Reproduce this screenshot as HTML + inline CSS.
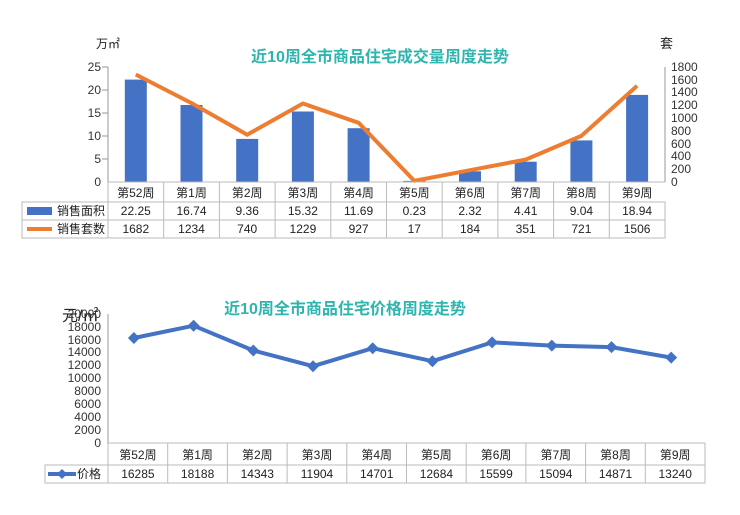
<!DOCTYPE html>
<html><head><meta charset="utf-8"><style>
body{margin:0;background:#fff;}
svg text{font-family:"Liberation Sans","Noto Sans CJK SC",sans-serif;}
</style></head><body>
<svg width="740" height="510" xmlns="http://www.w3.org/2000/svg">
<rect width="740" height="510" fill="#fff"/>
<!-- Chart 1 -->
<text x="96" y="48" font-size="12" fill="#222">万㎡</text>
<text x="660" y="48" font-size="13" fill="#222">套</text>
<text x="380" y="62" font-size="16" font-weight="bold" fill="#2db5ae" text-anchor="middle">近10周全市商品住宅成交量周度走势</text>
<g font-size="12" fill="#333" text-anchor="end">
<text x="101" y="71">25</text><text x="101" y="94">20</text><text x="101" y="117">15</text><text x="101" y="140">10</text><text x="101" y="163">5</text><text x="101" y="186">0</text>
</g>
<line x1="108" y1="67" x2="108" y2="182" stroke="#999"/>
<line x1="102" y1="67" x2="108" y2="67" stroke="#999"/><line x1="102" y1="90" x2="108" y2="90" stroke="#999"/><line x1="102" y1="113" x2="108" y2="113" stroke="#999"/><line x1="102" y1="136" x2="108" y2="136" stroke="#999"/><line x1="102" y1="159" x2="108" y2="159" stroke="#999"/>
<line x1="665" y1="67" x2="665" y2="182" stroke="#999"/>
<g font-size="12" fill="#333">
<text x="671" y="71">1800</text><text x="671" y="84">1600</text><text x="671" y="96">1400</text><text x="671" y="109">1200</text><text x="671" y="122">1000</text><text x="671" y="135">800</text><text x="671" y="148">600</text><text x="671" y="160">400</text><text x="671" y="173">200</text><text x="671" y="186">0</text>
</g>
<g fill="#4472c4">
<rect x="124.8" y="79.6" width="22" height="102.4"/>
<rect x="180.5" y="105" width="22" height="77"/>
<rect x="236.2" y="138.9" width="22" height="43.1"/>
<rect x="291.9" y="111.5" width="22" height="70.5"/>
<rect x="347.6" y="128.2" width="22" height="53.8"/>
<rect x="403.3" y="180.9" width="22" height="1.1"/>
<rect x="459" y="171.3" width="22" height="10.7"/>
<rect x="514.7" y="161.7" width="22" height="20.3"/>
<rect x="570.4" y="140.4" width="22" height="41.6"/>
<rect x="626.1" y="94.9" width="22" height="87.1"/>
</g>
<polyline fill="none" stroke="#ed7d31" stroke-width="4" stroke-linejoin="round" points="135.8,74.5 191.5,103.1 247.2,134.7 302.9,103.5 358.6,122.8 414.3,180.9 470,170.2 525.7,159.6 581.4,135.9 637.1,85.8"/>
<g stroke="#bbb" fill="none">
<rect x="22" y="202" width="643" height="36"/>
<line x1="22" y1="220" x2="665" y2="220"/>
<line x1="108" y1="182" x2="108" y2="238"/>
<line x1="108" y1="182" x2="665" y2="182"/>
<path d="M163.7 182V238M219.4 182V238M275.1 182V238M330.8 182V238M386.5 182V238M442.2 182V238M497.9 182V238M553.6 182V238M609.3 182V238"/>
</g>
<g font-size="12" fill="#222" text-anchor="middle">
<text x="135.8" y="197">第52周</text><text x="191.5" y="197">第1周</text><text x="247.2" y="197">第2周</text><text x="302.9" y="197">第3周</text><text x="358.6" y="197">第4周</text><text x="414.3" y="197">第5周</text><text x="470" y="197">第6周</text><text x="525.7" y="197">第7周</text><text x="581.4" y="197">第8周</text><text x="637.1" y="197">第9周</text>
<text x="135.8" y="215">22.25</text><text x="191.5" y="215">16.74</text><text x="247.2" y="215">9.36</text><text x="302.9" y="215">15.32</text><text x="358.6" y="215">11.69</text><text x="414.3" y="215">0.23</text><text x="470" y="215">2.32</text><text x="525.7" y="215">4.41</text><text x="581.4" y="215">9.04</text><text x="637.1" y="215">18.94</text>
<text x="135.8" y="233">1682</text><text x="191.5" y="233">1234</text><text x="247.2" y="233">740</text><text x="302.9" y="233">1229</text><text x="358.6" y="233">927</text><text x="414.3" y="233">17</text><text x="470" y="233">184</text><text x="525.7" y="233">351</text><text x="581.4" y="233">721</text><text x="637.1" y="233">1506</text>
</g>
<rect x="27" y="207" width="25" height="8" fill="#4472c4"/>
<line x1="27" y1="229" x2="52" y2="229" stroke="#ed7d31" stroke-width="4"/>
<text x="57" y="215" font-size="12" fill="#222">销售面积</text>
<text x="57" y="233" font-size="12" fill="#222">销售套数</text>
<!-- Chart 2 -->
<text x="345" y="314" font-size="16" font-weight="bold" fill="#2db5ae" text-anchor="middle">近10周全市商品住宅价格周度走势</text>
<text x="62" y="321" font-size="16" fill="#222">元/㎡</text>
<g font-size="12" fill="#333" text-anchor="end">
<text x="101" y="318">20000</text><text x="101" y="331">18000</text><text x="101" y="344">16000</text><text x="101" y="356">14000</text><text x="101" y="369">12000</text><text x="101" y="382">10000</text><text x="101" y="395">8000</text><text x="101" y="408">6000</text><text x="101" y="421">4000</text><text x="101" y="434">2000</text><text x="101" y="447">0</text>
</g>
<line x1="108" y1="314" x2="108" y2="443" stroke="#999"/>
<polyline fill="none" stroke="#4472c4" stroke-width="4" stroke-linejoin="round" points="133.9,338 193.6,325.7 253.3,350.5 313,366.2 372.7,348.2 432.4,361.2 492.1,342.4 551.8,345.6 611.5,347.1 671.2,357.6"/>
<g fill="#4472c4">
<path d="M133.9 332l6 6-6 6-6-6z"/><path d="M193.6 319.7l6 6-6 6-6-6z"/><path d="M253.3 344.5l6 6-6 6-6-6z"/><path d="M313 360.2l6 6-6 6-6-6z"/><path d="M372.7 342.2l6 6-6 6-6-6z"/><path d="M432.4 355.2l6 6-6 6-6-6z"/><path d="M492.1 336.4l6 6-6 6-6-6z"/><path d="M551.8 339.6l6 6-6 6-6-6z"/><path d="M611.5 341.1l6 6-6 6-6-6z"/><path d="M671.2 351.6l6 6-6 6-6-6z"/>
</g>
<g stroke="#bbb" fill="none">
<rect x="45" y="465" width="660" height="18"/>
<line x1="108" y1="443" x2="705" y2="443"/>
<line x1="108" y1="443" x2="108" y2="483"/><line x1="705" y1="443" x2="705" y2="465"/>
<path d="M167.7 443V483M227.4 443V483M287.1 443V483M346.8 443V483M406.5 443V483M466.2 443V483M525.9 443V483M585.6 443V483M645.3 443V483"/>
</g>
<g font-size="12" fill="#222" text-anchor="middle">
<text x="137.9" y="459">第52周</text><text x="197.6" y="459">第1周</text><text x="257.3" y="459">第2周</text><text x="317" y="459">第3周</text><text x="376.7" y="459">第4周</text><text x="436.4" y="459">第5周</text><text x="496.1" y="459">第6周</text><text x="555.8" y="459">第7周</text><text x="615.5" y="459">第8周</text><text x="675.2" y="459">第9周</text>
<text x="137.9" y="478">16285</text><text x="197.6" y="478">18188</text><text x="257.3" y="478">14343</text><text x="317" y="478">11904</text><text x="376.7" y="478">14701</text><text x="436.4" y="478">12684</text><text x="496.1" y="478">15599</text><text x="555.8" y="478">15094</text><text x="615.5" y="478">14871</text><text x="675.2" y="478">13240</text>
</g>
<line x1="48" y1="474" x2="76" y2="474" stroke="#4472c4" stroke-width="4"/>
<path d="M62 469l5 5-5 5-5-5z" fill="#4472c4"/>
<text x="77" y="478" font-size="12" fill="#222">价格</text>
</svg>
</body></html>
